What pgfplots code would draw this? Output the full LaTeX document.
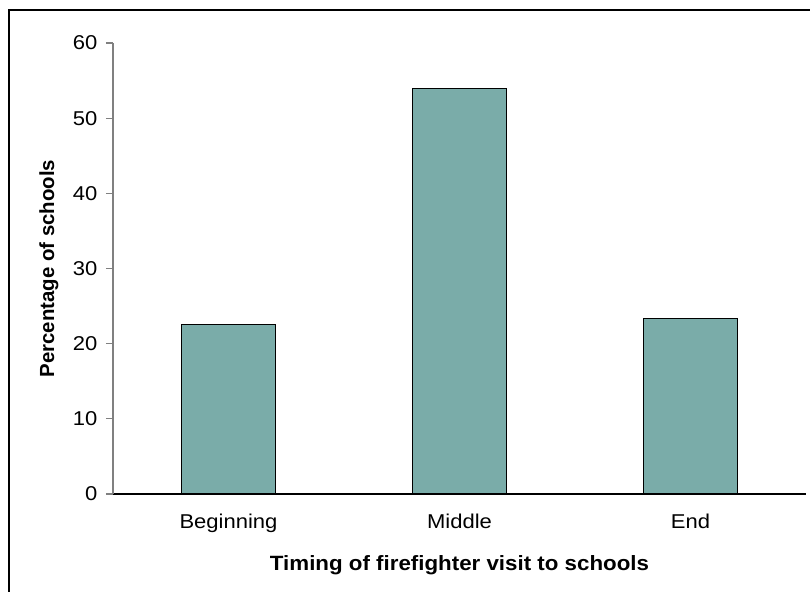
\documentclass[border=0pt]{standalone}
\usepackage{pgfplots}
\pgfplotsset{compat=1.18}
\usepackage{fontspec}
\setmainfont{Liberation Sans}
\newfontfamily\tickfont[FakeStretch=1.1]{Liberation Sans}
\newfontfamily\labelfont[FakeStretch=1.08]{Liberation Sans}
\definecolor{barteal}{RGB}{122,172,169}
\definecolor{axgray}{RGB}{128,128,128}
\begin{document}
\begin{tikzpicture}[x=0.75pt,y=0.75pt]
  \useasboundingbox (0,0) rectangle (810,592);
  \draw[line width=1.6pt] (9,0) -- (9,582) -- (810,582);
  \begin{axis}[
    at={(84.75pt,73.5pt)}, anchor=south west,
    scale only axis,
    width=519.75pt, height=338.25pt,
    xmin=-0.5, xmax=2.5,
    ymin=0, ymax=60,
    axis x line*=bottom,
    axis y line*=left,
    y axis line style={axgray, line width=0.8pt},
    x axis line style={black, line width=0.8pt},
    ytick={0,10,...,60},
    ytick style={axgray, line width=0.8pt},
    tick align=outside,
    major tick length=5.25pt,
    xtick={0,1,2},
    xticklabels={Beginning, Middle, End},
    xtick style={draw=none},
    extra x ticks={-0.5,0.5,1.5,2.5},
    extra x tick labels={},
    extra x tick style={xtick style={black, line width=0.8pt}},
    /pgf/number format/assume math mode=true,
    tick label style={font=\tickfont\fontsize{15}{18}\selectfont},
    yticklabel style={xshift=-3pt},
    xticklabel style={yshift=-6pt},
    xlabel={Timing of firefighter visit to schools},
    ylabel={Percentage of schools},
    xlabel style={font=\labelfont\bfseries\fontsize{15.5}{18}\selectfont},
    ylabel style={font=\bfseries\fontsize{15.3}{18}\selectfont, yshift=4pt},
  ]
    \addplot[ybar, bar width=0.41, fill=barteal, draw=black, line width=0.9pt]
      coordinates {(0,22.6) (1,54.0) (2,23.4)};
  \end{axis}
\end{tikzpicture}
\end{document}
